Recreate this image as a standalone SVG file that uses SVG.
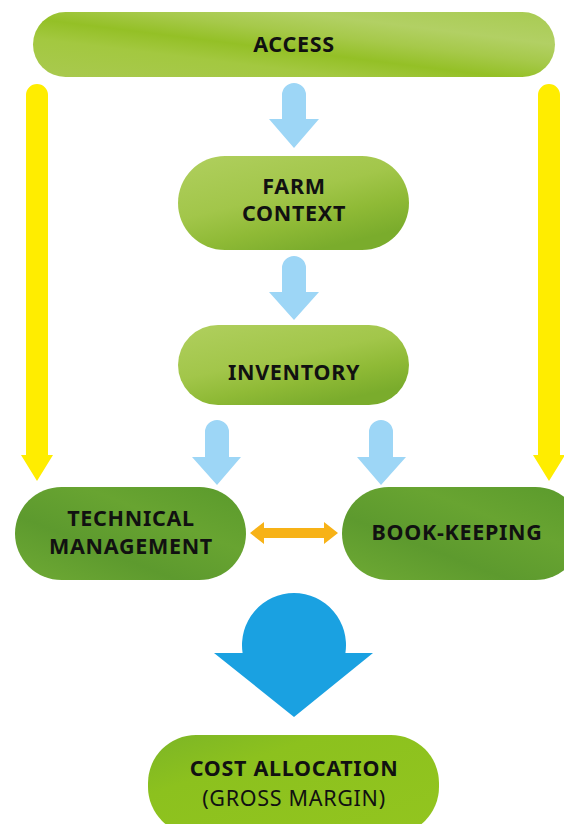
<svg xmlns="http://www.w3.org/2000/svg" width="564" height="824" viewBox="0 0 564 824">
<defs>
<linearGradient id="gLight" x1="0" y1="1" x2="1" y2="0">
<stop offset="0" stop-color="#a9c94f"/>
<stop offset="0.3" stop-color="#a3c840"/>
<stop offset="0.45" stop-color="#94c026"/>
<stop offset="0.6" stop-color="#a6c94a"/>
<stop offset="0.75" stop-color="#b2d064"/>
<stop offset="1" stop-color="#a8cb52"/>
</linearGradient>
<linearGradient id="gMid" x1="0" y1="0" x2="0.6" y2="1">
<stop offset="0" stop-color="#b0cf5e"/>
<stop offset="0.5" stop-color="#a2c64a"/>
<stop offset="0.75" stop-color="#8fba36"/>
<stop offset="1" stop-color="#7aac2c"/>
</linearGradient>
<linearGradient id="gDark" x1="0" y1="1" x2="1" y2="0">
<stop offset="0" stop-color="#6faa34"/>
<stop offset="0.35" stop-color="#5d9a2e"/>
<stop offset="0.65" stop-color="#68a431"/>
<stop offset="1" stop-color="#5a9a2c"/>
</linearGradient>
<linearGradient id="gBright" x1="0" y1="0" x2="1" y2="1">
<stop offset="0" stop-color="#7cb526"/>
<stop offset="0.3" stop-color="#8cc11e"/>
<stop offset="1" stop-color="#93c51f"/>
</linearGradient>
<style>
.t{font-family:"Noto Sans","Open Sans","Liberation Sans",sans-serif;font-weight:bold;font-size:21.5px;letter-spacing:0.7px;fill:#111;text-anchor:middle}
.r{font-family:"Noto Sans","Open Sans","Liberation Sans",sans-serif;font-weight:normal;font-size:21.5px;letter-spacing:0.7px;fill:#111;text-anchor:middle}
.lb{fill:#9dd6f6}
.yl{fill:#ffed00}
</style>
</defs>
<rect width="564" height="824" fill="#ffffff"/>

<g id="access">
<rect x="33" y="12" width="522" height="65" rx="32.5" fill="url(#gLight)"/>
<text class="t" x="294" y="52">ACCESS</text>
</g>

<g id="farm-context">
<rect x="178" y="156" width="231" height="94" rx="47" fill="url(#gMid)"/>
<text class="t" x="294" y="194">FARM</text>
<text class="t" x="294" y="221">CONTEXT</text>
</g>

<g id="inventory">
<rect x="178" y="325" width="231" height="80" rx="40" fill="url(#gMid)"/>
<text class="t" x="294" y="380">INVENTORY</text>
</g>

<g id="technical-management">
<rect x="15" y="487" width="231" height="93" rx="46.5" fill="url(#gDark)"/>
<text class="t" x="131" y="526">TECHNICAL</text>
<text class="t" x="131" y="554">MANAGEMENT</text>
</g>

<g id="book-keeping">
<rect x="342" y="487" width="240" height="93" rx="46.5" fill="url(#gDark)"/>
<text class="t" x="457" y="540">BOOK-KEEPING</text>
</g>

<g id="cost-allocation">
<rect x="148" y="735" width="291" height="100" rx="48" fill="url(#gBright)"/>
<text class="t" x="294" y="776">COST ALLOCATION</text>
<text class="r" x="294" y="806">(GROSS MARGIN)</text>
</g>

<g id="connectors">
<path class="yl" d="M26,95 a11,11 0 0 1 22,0 V455 H53 L37,481 L21,455 H26 Z"/>
<path class="yl" d="M538,95 a11,11 0 0 1 22,0 V455 H565 L549,481 L533,455 H538 Z"/>
<path class="lb" d="M282,95 a12,12 0 0 1 24,0 V119 H319 L294,148 L269,119 H282 Z"/>
<path class="lb" d="M282,268 a12,12 0 0 1 24,0 V292 H319 L294,320 L269,292 H282 Z"/>
<path class="lb" d="M205,432 a12,12 0 0 1 24,0 V457 H241 L217,485 L192,457 H205 Z"/>
<path class="lb" d="M369,432 a12,12 0 0 1 24,0 V457 H406 L381,485 L357,457 H369 Z"/>
<path fill="#f7b217" d="M250,533 L264,522 V528 H324 V522 L338,533 L324,544 V538 H264 V544 Z"/>
<path fill="#1aa1e1" d="M242.6,653 A52,52 0 1 1 345.4,653 H373 L294,717 L214,653 Z"/>
</g>
</svg>
